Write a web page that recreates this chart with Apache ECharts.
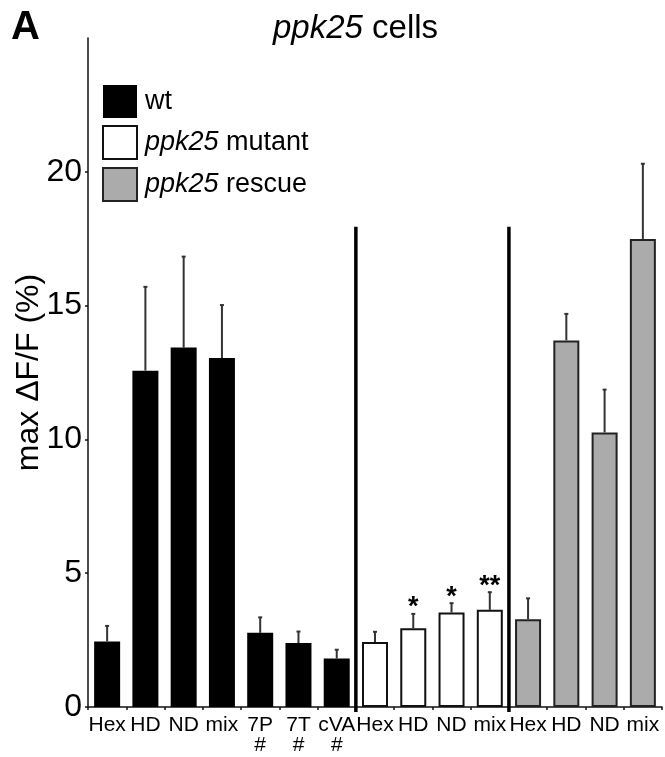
<!DOCTYPE html>
<html>
<head>
<meta charset="utf-8">
<script src="https://cdn.jsdelivr.net/npm/echarts@6/dist/echarts.min.js"></script>
<style>
  html, body { margin: 0; padding: 0; background: #fff; }
  #chart { width: 665px; height: 757px; }
</style>
</head>
<body>
<div id="chart"></div>
<script>
// categories along the x axis (3 groups: wt, mutant, rescue)
const categories = ['Hex', 'HD', 'ND', 'mix', '7P\n#', '7T\n#', 'cVA\n#', 'Hex', 'HD', 'ND', 'mix', 'Hex', 'HD', 'ND', 'mix']
const wtMeans = [2.45, 12.57, 13.43, 13.04, 2.77, 2.39, 1.81]
const wtSem = [0.58, 3.13, 3.4, 1.98, 0.58, 0.43, 0.33]
const mutantMeans = [2.43, 2.94, 3.53, 3.63]
const mutantSem = [0.38, 0.54, 0.35, 0.66]
const rescueMeans = [3.28, 13.7, 10.26, 17.49]
const rescueSem = [0.78, 0.99, 1.6, 2.81]
const sigMarks = ['', '', '', '', '', '', '', '', '*', '*', '**', '', '', '', '']
const yTicks = [0, 5, 10, 15, 20]
// group separators: drawn after these category indexes, up to this value
const separatorAfter = [6, 10]
const separatorTop = 17.95

const FONT = '"Liberation Sans", Arial, sans-serif'

const wtStart = 0
const mutantStart = wtMeans.length
const rescueStart = mutantStart + mutantMeans.length

function place(values, start) {
  return categories.map((c, i) => {
    const k = i - start
    return k >= 0 && k < values.length ? values[k] : '-'
  })
}

const allMeans = [...wtMeans, ...mutantMeans, ...rescueMeans]
const allSem = [...wtSem, ...mutantSem, ...rescueSem]
const errData = allMeans.map((m, i) => [i, m, allSem[i], sigMarks[i]])

const chart = echarts.init(document.getElementById('chart'))

const option = {
  animation: false,
  textStyle: { fontFamily: FONT },
  title: [
    {
      text: 'A',
      left: 11,
      top: 8,
      padding: 0,
      textStyle: { fontFamily: FONT, fontSize: 40, fontWeight: 'bold', color: '#000' }
    },
    {
      text: '{i|ppk25} cells',
      left: 273,
      top: 12,
      padding: 0,
      textStyle: {
        fontFamily: FONT, fontSize: 33, fontWeight: 'normal', color: '#000',
        rich: { i: { fontFamily: FONT, fontSize: 33, fontStyle: 'italic', color: '#000' } }
      }
    }
  ],
  legend: {
    orient: 'vertical',
    left: 102,
    top: 85,
    padding: 0,
    itemWidth: 34,
    itemHeight: 33,
    itemGap: 7,
    icon: 'rect',
    selectedMode: false,
    data: ['wt', 'ppk25 mutant', 'ppk25 rescue'],
    formatter: function (name) {
      return name.indexOf('ppk25') === 0 ? '{i|ppk25}' + name.slice(5) : name
    },
    textStyle: {
      fontFamily: FONT, fontSize: 27, color: '#000', padding: [0, 0, 0, 3],
      rich: { i: { fontFamily: FONT, fontSize: 27, fontStyle: 'italic', color: '#000' } }
    }
  },
  grid: { left: 88, right: 3, top: 38, bottom: 50 },
  xAxis: {
    type: 'category',
    data: categories,
    axisLine: { lineStyle: { color: '#111', width: 1.5 } },
    axisTick: { show: true, length: 3, lineStyle: { color: '#111', width: 1.5 } },
    axisLabel: {
      interval: 0,
      margin: 8,
      fontFamily: FONT,
      fontSize: 21,
      lineHeight: 20,
      color: '#000'
    }
  },
  yAxis: {
    type: 'value',
    min: 0,
    max: 25,
    interval: 5,
    name: 'max ΔF/F (%)',
    nameLocation: 'middle',
    nameGap: 43,
    nameMoveOverlap: false,
    nameTextStyle: { fontFamily: FONT, fontSize: 32, color: '#000' },
    axisLine: { show: true, lineStyle: { color: '#111', width: 1.5 } },
    axisTick: { show: true, length: 3, customValues: yTicks, lineStyle: { color: '#111', width: 1.5 } },
    axisLabel: { customValues: yTicks, margin: 6, fontFamily: FONT, fontSize: 32, color: '#000' },
    splitLine: { show: false }
  },
  series: [
    {
      name: 'wt',
      type: 'bar',
      barWidth: 26,
      barGap: '-100%',
      data: place(wtMeans, wtStart),
      itemStyle: { color: '#000', borderColor: '#000', borderWidth: 0 }
    },
    {
      name: 'ppk25 mutant',
      type: 'bar',
      barWidth: 26,
      barGap: '-100%',
      data: place(mutantMeans, mutantStart),
      itemStyle: { color: '#fff', borderColor: '#111', borderWidth: 2 }
    },
    {
      name: 'ppk25 rescue',
      type: 'bar',
      barWidth: 26,
      barGap: '-100%',
      data: place(rescueMeans, rescueStart),
      itemStyle: { color: '#ababab', borderColor: '#222', borderWidth: 2 }
    },
    // error bars (upper only) with significance marks
    {
      type: 'custom',
      z: 5,
      data: errData,
      renderItem: function (params, api) {
        const idx = api.value(0)
        const mean = api.value(1)
        const sem = api.value(2)
        const mark = errData[params.dataIndex][3]
        const p0 = api.coord([idx, mean])
        const p1 = api.coord([idx, mean + sem])
        const children = [
          { type: 'line', shape: { x1: p0[0], y1: p0[1], x2: p1[0], y2: p1[1] }, style: { stroke: '#333', lineWidth: 2 } },
          { type: 'line', shape: { x1: p1[0] - 2, y1: p1[1], x2: p1[0] + 2, y2: p1[1] }, style: { stroke: '#333', lineWidth: 2 } }
        ]
        if (mark) {
          children.push({
            type: 'text',
            style: {
              x: p1[0], y: p1[1] - 6,
              text: mark,
              fill: '#000',
              font: 'bold 27px ' + FONT,
              align: 'center',
              verticalAlign: 'middle'
            }
          })
        }
        return { type: 'group', children: children }
      }
    },
    // vertical separators between groups
    {
      type: 'custom',
      z: 6,
      data: separatorAfter.map(i => [i, separatorTop]),
      renderItem: function (params, api) {
        const idx = api.value(0)
        const half = api.size([1, 0])[0] / 2
        const top = api.coord([idx, api.value(1)])
        const base = api.coord([idx, 0])
        return {
          type: 'line',
          shape: { x1: top[0] + half, y1: top[1], x2: base[0] + half, y2: base[1] + 5 },
          style: { stroke: '#000', lineWidth: 3.5 }
        }
      }
    }
  ]
}

chart.setOption(option)
window.addEventListener('resize', function () {
  chart.resize()
})
</script>
</body>
</html>
